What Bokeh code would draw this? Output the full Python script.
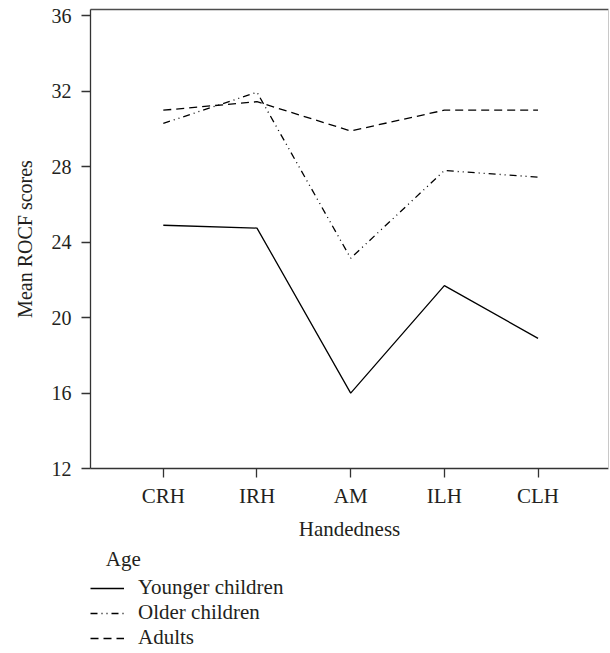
from bokeh.plotting import figure
from bokeh.layouts import column
from bokeh.models import Range1d, FixedTicker, Legend, LegendItem, LinearAxis
from bokeh.embed import file_html
from bokeh.resources import INLINE

categories = ["CRH", "IRH", "AM", "ILH", "CLH"]
younger = [24.9, 24.75, 16.0, 21.7, 18.9]
older = [30.3, 31.95, 23.15, 27.8, 27.45]
adults = [31.0, 31.45, 29.9, 31.0, 31.0]
y_ticks = [12, 16, 20, 24, 28, 32, 36]
series_names = ["Younger children", "Older children", "Adults"]
legend_title = "Age"

FONT = "Liberation Serif"
TXT = "#231f20"
FS = "20px"
FS2 = "21px"
DASHES = ["solid", "7 4 1 4 1 4", "8 5"]

xs = list(range(1, len(categories) + 1))
series = [younger, older, adults]

p = figure(width=610, height=544,
           x_range=Range1d(0.223, 5.752), y_range=Range1d(12, 36.34),
           output_backend="svg", toolbar_location=None,
           min_border_left=90, min_border_right=2, min_border_top=9, min_border_bottom=76,
           background_fill_color="white", border_fill_color="white")
p.xgrid.visible = False
p.ygrid.visible = False
p.outline_line_color = None

for ys, d in zip(series, DASHES):
    p.line(xs, ys, line_color="black", line_width=1.3, line_dash=d)

# axes
xa = p.xaxis[0]
xa.ticker = FixedTicker(ticks=xs)
xa.major_label_overrides = {x: c for x, c in zip(xs, categories)}
xa.axis_label = "Handedness"
ya = p.yaxis[0]
ya.ticker = FixedTicker(ticks=y_ticks)
ya.axis_label = "Mean ROCF scores"
for ax in (xa, ya):
    ax.axis_line_color = "#333333"
    ax.axis_line_width = 1.3
    ax.major_tick_line_color = "#333333"
    ax.major_tick_line_width = 1.3
    ax.major_tick_out = 9
    ax.major_tick_in = 0
    ax.minor_tick_line_color = None
    ax.major_label_text_font = FONT
    ax.major_label_text_color = TXT
    ax.axis_label_text_font = FONT
    ax.axis_label_text_color = TXT
    ax.axis_label_text_font_style = "normal"
ya.major_label_text_font_size = FS
ya.axis_label_text_font_size = FS
xa.major_label_text_font_size = FS2
xa.axis_label_text_font_size = FS2
xa.major_label_standoff = 6
xa.axis_label_standoff = 6
ya.major_label_standoff = 10
ya.axis_label_standoff = 13

# frame top/right edges
top = LinearAxis(ticker=FixedTicker(ticks=[]), axis_line_color="#4d4d4d", axis_line_width=1.3,
                 major_tick_out=0, major_tick_in=0, minor_tick_out=0, minor_tick_in=0,
                 major_label_standoff=0, major_label_text_font_size="0px")
p.add_layout(top, "above")
right = LinearAxis(ticker=FixedTicker(ticks=[]), axis_line_color="#c8c8c8", axis_line_width=1,
                   major_tick_out=0, major_tick_in=0, minor_tick_out=0, minor_tick_in=0,
                   major_label_standoff=0, major_label_text_font_size="0px")
p.add_layout(right, "right")

# legend panel below the chart (proxy lines lie outside this panel's ranges)
pl = figure(width=610, height=109, x_range=Range1d(0, 1), y_range=Range1d(0, 1),
            output_backend="svg", toolbar_location=None,
            min_border_left=90, min_border_right=0, min_border_top=3, min_border_bottom=0,
            background_fill_color="white", border_fill_color="white")
pl.axis.visible = False
pl.xgrid.visible = False
pl.ygrid.visible = False
pl.outline_line_color = None
proxies = [pl.line(xs, ys, line_color="black", line_width=1.3, line_dash=d)
           for ys, d in zip(series, DASHES)]

legend = Legend(items=[LegendItem(label=n, renderers=[r]) for n, r in zip(series_names, proxies)],
                title="\u00a0\u00a0\u00a0" + legend_title, location="top_left", orientation="vertical",
                margin=0, padding=0, spacing=0, border_line_color=None, background_fill_alpha=0,
                glyph_width=34, glyph_height=22, label_height=22, label_standoff=14, title_standoff=3,
                label_text_font=FONT, label_text_font_size=FS2, label_text_color=TXT,
                label_text_line_height=1.0,
                title_text_font=FONT, title_text_font_size=FS2, title_text_color=TXT,
                title_text_line_height=1.0,
                title_text_font_style="normal")
pl.add_layout(legend, "center")

open("out.html", "w").write(file_html(column(p, pl, spacing=0), INLINE))
